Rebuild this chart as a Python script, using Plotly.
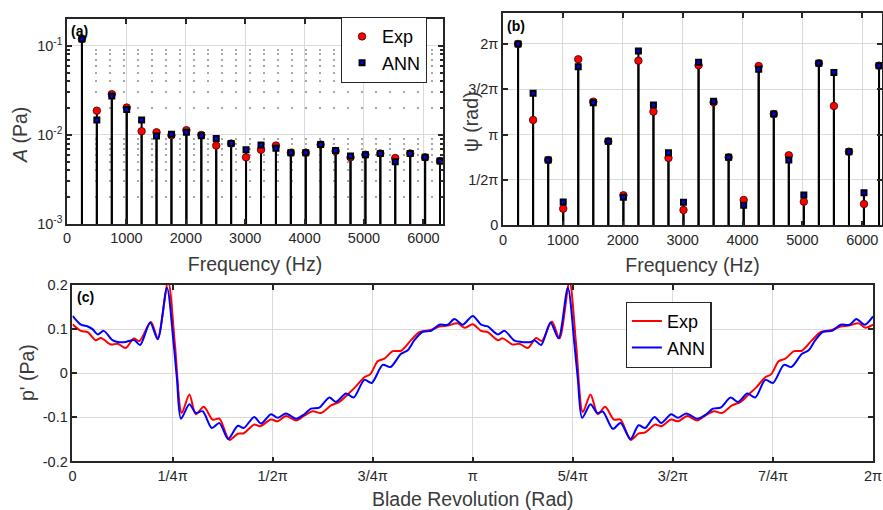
import numpy as np
import plotly.graph_objects as go

# ---------------- data ----------------
# harmonic frequencies (Hz)
freq = [251, 502, 754, 1005, 1256, 1507, 1758, 2010, 2261, 2512, 2763, 3014, 3266,
        3517, 3768, 4019, 4270, 4522, 4773, 5024, 5275, 5526, 5778, 6029, 6280]

# amplitude spectrum (Pa)
amp_exp = [0.119, 0.0187, 0.0287, 0.0203, 0.0110, 0.0107, 0.0099, 0.0113, 0.0100, 0.0076,
           0.0080, 0.0056, 0.0068, 0.0076, 0.0063, 0.0063, 0.0078, 0.0066, 0.0056, 0.0060,
           0.0062, 0.0055, 0.0062, 0.0056, 0.0051]
amp_ann = [0.119, 0.0147, 0.0273, 0.0193, 0.0147, 0.0097, 0.0102, 0.0107, 0.0098, 0.0091,
           0.0080, 0.0068, 0.0077, 0.0071, 0.0063, 0.0063, 0.0078, 0.0067, 0.0058, 0.0060,
           0.0062, 0.0050, 0.0062, 0.0056, 0.0051]

# phase spectrum (multiples of pi)
phase_exp = [2.0, 1.162, 0.721, 0.184, 1.831, 1.364, 0.926, 0.331, 1.816, 1.254, 0.743, 0.169,
             1.765, 1.357, 0.750, 0.279, 1.757, 1.228, 0.772, 0.261, 1.787, 1.316, 0.8125,
             0.235, 1.761]
phase_ann = [2.0, 1.456, 0.721, 0.257, 1.750, 1.353, 0.926, 0.309, 1.923, 1.327, 0.801, 0.254,
             1.798, 1.368, 0.750, 0.221, 1.721, 1.228, 0.721, 0.335, 1.787, 1.684, 0.8125,
             0.360, 1.761]

# pressure fluctuation over one blade revolution (angle in multiples of pi, p' in Pa)
theta_exp = [0.0, 0.021, 0.038, 0.058, 0.071, 0.096, 0.113, 0.133, 0.153, 0.167, 0.196, 0.213,
             0.239, 0.256, 0.273, 0.292, 0.308, 0.328, 0.350, 0.367, 0.392, 0.413, 0.428, 0.454,
             0.469, 0.496, 0.5125, 0.5333, 0.5583, 0.5792, 0.6, 0.6208, 0.6458, 0.6667, 0.6875,
             0.7058, 0.7292, 0.7442, 0.7625, 0.7792, 0.8, 0.8208, 0.8458, 0.8667, 0.8958, 0.9167,
             0.9375, 0.9625, 0.9792, 1.0,
             1.0208, 1.0375, 1.0625, 1.075, 1.1, 1.1167, 1.1375, 1.1583, 1.1725, 1.1975, 1.2167,
             1.2417, 1.2583, 1.275, 1.2942, 1.3125, 1.3308, 1.3525, 1.3692, 1.3942, 1.4142,
             1.4308, 1.4558, 1.4708, 1.4958, 1.5125, 1.5358, 1.5608, 1.5808, 1.6025, 1.6225,
             1.6475, 1.6692, 1.6892, 1.7083, 1.7308, 1.7458, 1.7642, 1.7808, 1.8025, 1.8225,
             1.8475, 1.8692, 1.8975, 1.9192, 1.9392, 1.9642, 1.9808, 2.0]
p_exp = [0.111, 0.096, 0.093, 0.075, 0.080, 0.065, 0.067, 0.057, 0.079, 0.073, 0.116, 0.079,
         0.208, 0.064, -0.090, -0.048, -0.093, -0.076, -0.105, -0.103, -0.151, -0.137, -0.136,
         -0.116, -0.120, -0.105, -0.109, -0.097, -0.107, -0.096, -0.086, -0.090, -0.073, -0.065,
         -0.048, -0.032, -0.009, -0.002, 0.027, 0.033, 0.050, 0.051, 0.075, 0.093, 0.098, 0.106,
         0.108, 0.113, 0.103, 0.111,
         0.096, 0.093, 0.075, 0.079, 0.065, 0.067, 0.057, 0.080, 0.073, 0.117, 0.079,
         0.208, 0.064, -0.088, -0.048, -0.093, -0.076, -0.105, -0.105, -0.151, -0.137,
         -0.134, -0.116, -0.120, -0.105, -0.109, -0.097, -0.107, -0.096, -0.086, -0.090,
         -0.073, -0.065, -0.048, -0.032, -0.009, -0.002, 0.027, 0.033, 0.050, 0.051,
         0.075, 0.093, 0.098, 0.106, 0.108, 0.113, 0.103, 0.110]

theta_ann = [0.0, 0.021, 0.038, 0.050, 0.063, 0.078, 0.100, 0.113, 0.133, 0.154, 0.169, 0.194,
             0.213, 0.236, 0.253, 0.261, 0.271, 0.292, 0.308, 0.325, 0.348, 0.367, 0.389, 0.413,
             0.428, 0.454, 0.471, 0.496, 0.5125, 0.5333, 0.5583, 0.5792, 0.5958, 0.6167, 0.6417,
             0.6583, 0.6833, 0.7025, 0.7292, 0.7475, 0.775, 0.7942, 0.8208, 0.8375, 0.8542, 0.875,
             0.8958, 0.9167, 0.9375, 0.9542, 0.975, 1.0,
             1.0208, 1.0375, 1.0625, 1.0792, 1.1042, 1.1208, 1.1458, 1.1542, 1.1708, 1.1942,
             1.2142, 1.2375, 1.2542, 1.2625, 1.2733, 1.2942, 1.3108, 1.325, 1.35, 1.3692, 1.3942,
             1.4142, 1.4308, 1.4542, 1.4708, 1.4958, 1.5125, 1.5333, 1.5608, 1.5833, 1.6, 1.6192,
             1.6442, 1.6625, 1.6858, 1.7058, 1.7308, 1.75, 1.7775, 1.7958, 1.8225, 1.8392, 1.8558,
             1.875, 1.8975, 1.9192, 1.9417, 1.9583, 1.9792, 2.0]
p_ann = [0.130, 0.110, 0.106, 0.100, 0.088, 0.096, 0.075, 0.071, 0.071, 0.075, 0.064, 0.115,
         0.077, 0.194, 0.064, -0.013, -0.103, -0.070, -0.090, -0.086, -0.124, -0.113, -0.149,
         -0.119, -0.124, -0.099, -0.114, -0.093, -0.101, -0.091, -0.103, -0.093, -0.080, -0.078,
         -0.055, -0.065, -0.046, -0.055, -0.015, -0.022, 0.019, 0.014, 0.044, 0.052, 0.075, 0.094,
         0.096, 0.110, 0.110, 0.123, 0.110, 0.130,
         0.110, 0.106, 0.088, 0.096, 0.074, 0.071, 0.071, 0.075, 0.064, 0.115,
         0.079, 0.194, 0.064, -0.013, -0.101, -0.070, -0.090, -0.087, -0.126, -0.113, -0.149,
         -0.118, -0.124, -0.099, -0.113, -0.093, -0.101, -0.091, -0.103, -0.093, -0.080, -0.078,
         -0.055, -0.065, -0.046, -0.055, -0.015, -0.022, 0.019, 0.014, 0.044, 0.052, 0.075,
         0.094, 0.096, 0.110, 0.110, 0.123, 0.110, 0.129]

freq_ticks = [0, 1000, 2000, 3000, 4000, 5000, 6000]
amp_ticks = [1e-3, 1e-2, 1e-1]
amp_tick_text = ["10<sup>-3</sup>", "10<sup>-2</sup>", "10<sup>-1</sup>"]
phase_ticks = [0, 0.5, 1.0, 1.5, 2.0]
phase_tick_text = ["0", "1/2π", "π", "3/2π", "2π"]
rev_ticks = [0, 0.25, 0.5, 0.75, 1.0, 1.25, 1.5, 1.75, 2.0]
rev_tick_text = ["0", "1/4π", "1/2π", "3/4π", "π", "5/4π", "3/2π", "7/4π", "2π"]
p_ticks = [-0.2, -0.1, 0, 0.1, 0.2]
p_tick_text = ["-0.2", "-0.1", "0", "0.1", "0.2"]

# ---------------- styling ----------------
FONT = "Arial, 'Liberation Sans', sans-serif"
INK = "#262626"
LABEL = "#3a3a3a"
GRID = "#dadada"
RED = "#ff0000"
BLUE = "#0000ff"


def stem_path(x, y, base):
    xs, ys = [], []
    for xi, yi in zip(x, y):
        xs += [xi, xi, None]
        ys += [base, yi, None]
    return xs, ys


fig = go.Figure()

# ----- (a) amplitude -----
for vals in (amp_exp, amp_ann):
    sx, sy = stem_path(freq, vals, 1e-3)
    fig.add_trace(go.Scatter(x=sx, y=sy, mode="lines", line=dict(color="black", width=2),
                             showlegend=False, hoverinfo="skip", xaxis="x", yaxis="y"))
fig.add_trace(go.Scatter(x=freq, y=amp_exp, mode="markers", name="Exp",
                         marker=dict(symbol="circle", size=7.5, color=RED,
                                     line=dict(color="#400000", width=0.8)),
                         xaxis="x", yaxis="y", legend="legend"))
fig.add_trace(go.Scatter(x=freq, y=amp_ann, mode="markers", name="ANN",
                         marker=dict(symbol="square", size=5, color=BLUE,
                                     line=dict(color="black", width=2)),
                         xaxis="x", yaxis="y", legend="legend"))

# ----- (b) phase -----
phase_exp_rad = [v * np.pi for v in phase_exp]
phase_ann_rad = [v * np.pi for v in phase_ann]
for vals in (phase_exp_rad, phase_ann_rad):
    sx, sy = stem_path(freq, vals, 0)
    fig.add_trace(go.Scatter(x=sx, y=sy, mode="lines", line=dict(color="black", width=2),
                             showlegend=False, hoverinfo="skip", xaxis="x2", yaxis="y2"))
fig.add_trace(go.Scatter(x=freq, y=phase_exp_rad, mode="markers", showlegend=False,
                         marker=dict(symbol="circle", size=7.5, color=RED,
                                     line=dict(color="#400000", width=0.8)),
                         xaxis="x2", yaxis="y2"))
fig.add_trace(go.Scatter(x=freq, y=phase_ann_rad, mode="markers", showlegend=False,
                         marker=dict(symbol="square", size=5, color=BLUE,
                                     line=dict(color="black", width=2)),
                         xaxis="x2", yaxis="y2"))

# ----- (c) pressure signal -----
fig.add_trace(go.Scatter(x=[t * np.pi for t in theta_exp], y=p_exp, mode="lines", name="Exp",
                         line=dict(color=RED, width=2, shape="spline", smoothing=0.8),
                         xaxis="x3", yaxis="y3", legend="legend2"))
fig.add_trace(go.Scatter(x=[t * np.pi for t in theta_ann], y=p_ann, mode="lines", name="ANN",
                         line=dict(color=BLUE, width=2, shape="spline", smoothing=0.8),
                         xaxis="x3", yaxis="y3", legend="legend2"))

axis_common = dict(showline=True, linecolor=INK, linewidth=1.6, mirror="ticks",
                   ticks="inside", ticklen=5, tickwidth=1.6, tickcolor=INK,
                   showgrid=True, gridcolor=GRID, gridwidth=1.2, zeroline=False,
                   tickfont=dict(family=FONT, size=14.5, color=INK),
                   automargin=False)
title_font = dict(family=FONT, size=19.5, color=LABEL)

minor_amp = [m * d for d in (1e-3, 1e-2, 1e-1) for m in range(2, 10) if m * d <= 0.2]

fig.update_layout(
    width=883, height=510,
    margin=dict(l=0, r=0, t=0, b=0),
    paper_bgcolor="white", plot_bgcolor="white",
    font=dict(family=FONT, color=INK),
    xaxis=dict(domain=[0.0759, 0.5017], range=[0, 6330], anchor="y",
               tickvals=freq_ticks, ticktext=[str(v) for v in freq_ticks],
               title=dict(text="Frequency (Hz)", font=title_font, standoff=12),
               **axis_common),
    yaxis=dict(domain=[0.5608, 0.9627], type="log", range=[-3, np.log10(0.2)], anchor="x",
               tickvals=amp_ticks, ticktext=amp_tick_text,
               minor=dict(tickvals=minor_amp, ticks="inside", ticklen=3, tickcolor=INK,
                          showgrid=True, gridcolor="#a8a8a8", griddash="2px,12px",
                          gridwidth=1.6),
               **axis_common),
    xaxis2=dict(domain=[0.5697, 0.9989], range=[0, 6330], anchor="y2",
                tickvals=freq_ticks, ticktext=[str(v) for v in freq_ticks],
                title=dict(text="Frequency (Hz)", font=title_font, standoff=12),
                **axis_common),
    yaxis2=dict(domain=[0.5582, 0.9739], range=[0, 2.338 * np.pi], anchor="x2",
                tickvals=[v * np.pi for v in phase_ticks], ticktext=phase_tick_text,
                **axis_common),
    xaxis3=dict(domain=[0.0821, 0.9887], range=[0, 2 * np.pi], anchor="y3",
                tickvals=[v * np.pi for v in rev_ticks], ticktext=rev_tick_text,
                title=dict(text="Blade Revolution (Rad)", font=title_font, standoff=11),
                **axis_common),
    yaxis3=dict(domain=[0.0951, 0.4412], range=[-0.2, 0.2], anchor="x3",
                tickvals=p_ticks, ticktext=p_tick_text,
                **axis_common),
    legend=dict(x=0.386, y=0.9667, xanchor="left", yanchor="top",
                bgcolor="white", bordercolor=INK, borderwidth=1.2,
                font=dict(family=FONT, size=18, color="black"),
                itemwidth=30, tracegroupgap=0),
    legend2=dict(x=0.7086, y=0.4084, xanchor="left", yanchor="top",
                 bgcolor="white", bordercolor=INK, borderwidth=1.2,
                 font=dict(family=FONT, size=18, color="black"),
                 itemwidth=30, tracegroupgap=0),
    annotations=[
        # y-axis titles
        dict(text="<i>A</i> (Pa)", xref="paper", yref="paper", x=20 / 883, y=1 - 135 / 510,
             textangle=-90, showarrow=False, font=title_font,
             xanchor="center", yanchor="middle"),
        dict(text="ψ (rad)", xref="paper", yref="paper", x=471 / 883, y=1 - 122 / 510,
             textangle=-90, showarrow=False, font=title_font,
             xanchor="center", yanchor="middle"),
        dict(text="p' (Pa)", xref="paper", yref="paper", x=27 / 883, y=1 - 373 / 510,
             textangle=-90, showarrow=False, font=title_font,
             xanchor="center", yanchor="middle"),
        # panel tags
        dict(text="<b>(a)</b>", xref="x domain", yref="y domain", x=0.005, y=0.99,
             xanchor="left", yanchor="top", showarrow=False,
             font=dict(family=FONT, size=14, color="black")),
        dict(text="<b>(b)</b>", xref="x2 domain", yref="y2 domain", x=0.005, y=0.985,
             xanchor="left", yanchor="top", showarrow=False,
             font=dict(family=FONT, size=14, color="black")),
        dict(text="<b>(c)</b>", xref="x3 domain", yref="y3 domain", x=0.003, y=0.99,
             xanchor="left", yanchor="top", showarrow=False,
             font=dict(family=FONT, size=14, color="black")),
    ],
)

fig.write_html("out.html")
